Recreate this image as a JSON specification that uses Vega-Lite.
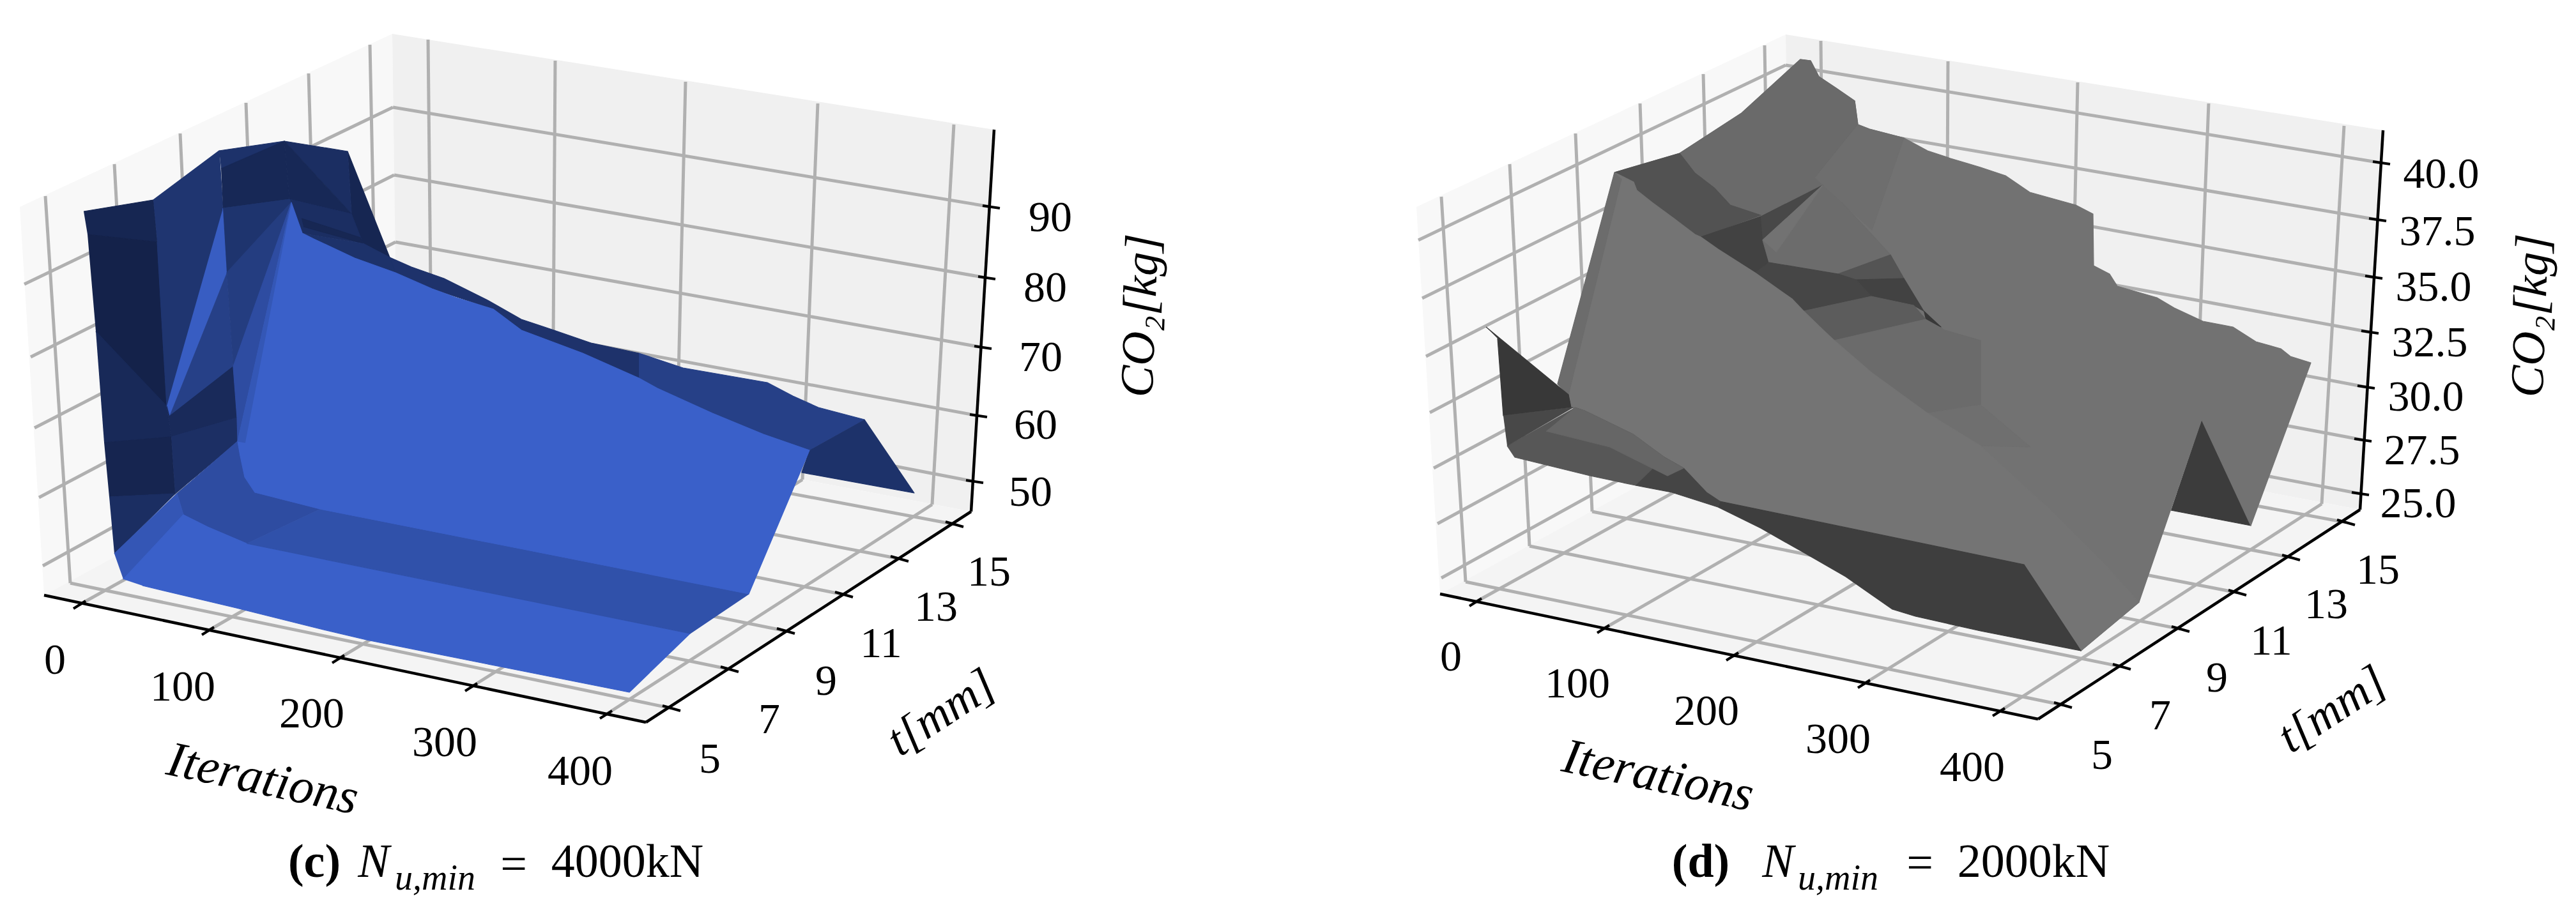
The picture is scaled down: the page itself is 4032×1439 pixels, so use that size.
{"$schema":"https://vega.github.io/schema/vega-lite/v6.json","autosize":{"type":"fit","contains":"padding"},"width":4032,"height":1439,"padding":0,"background":"white","view":{"stroke":null},
"datasets":{
"panes":[
{"poly":"cL","pane":"left","i":0,"u":31,"v":324},{"poly":"cL","pane":"left","i":1,"u":614,"v":53},{"poly":"cL","pane":"left","i":2,"u":622,"v":630},{"poly":"cL","pane":"left","i":3,"u":69,"v":932},
{"poly":"cB","pane":"back","i":0,"u":614,"v":53},{"poly":"cB","pane":"back","i":1,"u":1556,"v":203},{"poly":"cB","pane":"back","i":2,"u":1520,"v":801},{"poly":"cB","pane":"back","i":3,"u":622,"v":630},
{"poly":"cF","pane":"floor","i":0,"u":69,"v":932},{"poly":"cF","pane":"floor","i":1,"u":622,"v":630},{"poly":"cF","pane":"floor","i":2,"u":1520,"v":801},{"poly":"cF","pane":"floor","i":3,"u":1011,"v":1131},
{"poly":"dL","pane":"left","i":0,"u":2217,"v":324},{"poly":"dL","pane":"left","i":1,"u":2795,"v":54},{"poly":"dL","pane":"left","i":2,"u":2803,"v":630},{"poly":"dL","pane":"left","i":3,"u":2254,"v":930},
{"poly":"dB","pane":"back","i":0,"u":2795,"v":54},{"poly":"dB","pane":"back","i":1,"u":3730,"v":204},{"poly":"dB","pane":"back","i":2,"u":3694,"v":798},{"poly":"dB","pane":"back","i":3,"u":2803,"v":630},
{"poly":"dF","pane":"floor","i":0,"u":2254,"v":930},{"poly":"dF","pane":"floor","i":1,"u":2803,"v":630},{"poly":"dF","pane":"floor","i":2,"u":3694,"v":798},{"poly":"dF","pane":"floor","i":3,"u":3190,"v":1126}],
"grid":[
{"u":124,"v":947,"u2":676,"v2":640},{"u":676,"v":640,"u2":670,"v2":62},{"u":325,"v":988,"u2":865,"v2":676},{"u":865,"v":676,"u2":869,"v2":95},{"u":529,"v":1032,"u2":1059,"v2":713},{"u":1059,"v":713,"u2":1073,"v2":128},{"u":737,"v":1076,"u2":1256,"v2":751},{"u":1256,"v":751,"u2":1280,"v2":162},{"u":948,"v":1119,"u2":1459,"v2":790},{"u":1459,"v":790,"u2":1493,"v2":195},
{"u":1051,"v":1109,"u2":110,"v2":913},{"u":110,"v":913,"u2":71,"v2":307},{"u":1142,"v":1048,"u2":212,"v2":856},{"u":212,"v":856,"u2":179,"v2":257},{"u":1230,"v":988,"u2":310,"v2":802},{"u":310,"v":802,"u2":282,"v2":209},{"u":1321,"v":931,"u2":407,"v2":749},{"u":407,"v":749,"u2":385,"v2":161},{"u":1408,"v":875,"u2":500,"v2":699},{"u":500,"v":699,"u2":483,"v2":115},{"u":1494,"v":821,"u2":591,"v2":651},{"u":591,"v":651,"u2":579,"v2":70},
{"u":1551,"v":324,"u2":615,"v2":168},{"u":615,"v":168,"u2":38,"v2":445},{"u":1544,"v":435,"u2":617,"v2":274},{"u":617,"v":274,"u2":48,"v2":559},{"u":1538,"v":544,"u2":619,"v2":379},{"u":619,"v":379,"u2":54,"v2":670},{"u":1531,"v":651,"u2":621,"v2":483},{"u":621,"v":483,"u2":61,"v2":779},{"u":1525,"v":754,"u2":622,"v2":580},{"u":622,"v":580,"u2":67,"v2":886},
{"u":2309,"v":943,"u2":2856,"v2":640},{"u":2856,"v":640,"u2":2850,"v2":64},{"u":2509,"v":985,"u2":3046,"v2":676},{"u":3046,"v":676,"u2":3049,"v2":96},{"u":2711,"v":1028,"u2":3239,"v2":713},{"u":3239,"v":713,"u2":3252,"v2":129},{"u":2917,"v":1071,"u2":3434,"v2":750},{"u":3434,"v":750,"u2":3457,"v2":162},{"u":3128,"v":1115,"u2":3634,"v2":789},{"u":3634,"v":789,"u2":3669,"v2":197},
{"u":3229,"v":1104,"u2":2294,"v2":911},{"u":2294,"v":911,"u2":2256,"v2":308},{"u":3321,"v":1044,"u2":2394,"v2":855},{"u":2394,"v":855,"u2":2363,"v2":257},{"u":3413,"v":985,"u2":2492,"v2":801},{"u":2492,"v":801,"u2":2466,"v2":209},{"u":3502,"v":928,"u2":2588,"v2":749},{"u":2588,"v":749,"u2":2567,"v2":162},{"u":3586,"v":873,"u2":2681,"v2":699},{"u":2681,"v":699,"u2":2666,"v2":116},{"u":3672,"v":818,"u2":2772,"v2":651},{"u":2772,"v":651,"u2":2762,"v2":71},
{"u":3727,"v":255,"u2":2795,"v2":102},{"u":2795,"v":102,"u2":2220,"v2":376},{"u":3721,"v":344,"u2":2797,"v2":186},{"u":2797,"v":186,"u2":2226,"v2":467},{"u":3715,"v":434,"u2":2798,"v2":269},{"u":2798,"v":269,"u2":2232,"v2":558},{"u":3709,"v":520,"u2":2799,"v2":352},{"u":2799,"v":352,"u2":2238,"v2":646},{"u":3703,"v":606,"u2":2800,"v2":436},{"u":2800,"v":436,"u2":2244,"v2":733},{"u":3699,"v":689,"u2":2801,"v2":520},{"u":2801,"v":520,"u2":2250,"v2":820},{"u":3694,"v":773,"u2":2802,"v2":603},{"u":2802,"v":603,"u2":2256,"v2":905}],
"axes":[
{"u":69,"v":932,"u2":1011,"v2":1131},{"u":1011,"v":1131,"u2":1520,"v2":801},{"u":1520,"v":801,"u2":1556,"v2":203},
{"u":2254,"v":930,"u2":3190,"v2":1126},{"u":3190,"v":1126,"u2":3694,"v2":798},{"u":3694,"v":798,"u2":3730,"v2":204}],
"ticks":[
{"u":115,"v":953,"u2":134,"v2":941},{"u":316,"v":994,"u2":335,"v2":982},{"u":520,"v":1038,"u2":539,"v2":1026},{"u":728,"v":1082,"u2":747,"v2":1070},{"u":939,"v":1125,"u2":958,"v2":1113},
{"u":1037,"v":1105,"u2":1065,"v2":1113},{"u":1128,"v":1044,"u2":1156,"v2":1052},{"u":1216,"v":984,"u2":1244,"v2":992},{"u":1307,"v":927,"u2":1335,"v2":935},{"u":1394,"v":871,"u2":1422,"v2":879},{"u":1480,"v":817,"u2":1508,"v2":825},
{"u":1538,"v":322,"u2":1565,"v2":326},{"u":1531,"v":433,"u2":1558,"v2":437},{"u":1525,"v":542,"u2":1552,"v2":546},{"u":1518,"v":649,"u2":1545,"v2":653},{"u":1512,"v":752,"u2":1539,"v2":756},
{"u":2300,"v":949,"u2":2319,"v2":937},{"u":2500,"v":991,"u2":2519,"v2":979},{"u":2702,"v":1034,"u2":2721,"v2":1022},{"u":2908,"v":1077,"u2":2927,"v2":1065},{"u":3119,"v":1121,"u2":3138,"v2":1109},
{"u":3215,"v":1100,"u2":3243,"v2":1108},{"u":3307,"v":1040,"u2":3335,"v2":1048},{"u":3399,"v":981,"u2":3427,"v2":989},{"u":3488,"v":924,"u2":3516,"v2":932},{"u":3572,"v":869,"u2":3600,"v2":877},{"u":3658,"v":814,"u2":3686,"v2":822},
{"u":3714,"v":253,"u2":3741,"v2":257},{"u":3708,"v":342,"u2":3735,"v2":346},{"u":3702,"v":432,"u2":3729,"v2":436},{"u":3696,"v":518,"u2":3723,"v2":522},{"u":3690,"v":604,"u2":3717,"v2":608},{"u":3685,"v":687,"u2":3712,"v2":691},{"u":3681,"v":771,"u2":3708,"v2":775}],
"tickLabels":[
{"u":86,"v":1035,"t":"0"},{"u":286,"v":1077,"t":"100"},{"u":488,"v":1119,"t":"200"},{"u":696,"v":1164,"t":"300"},{"u":908,"v":1209,"t":"400"},
{"u":1111,"v":1190,"t":"5"},{"u":1204,"v":1128,"t":"7"},{"u":1293,"v":1068,"t":"9"},{"u":1379,"v":1009,"t":"11"},{"u":1465,"v":952,"t":"13"},{"u":1548,"v":897,"t":"15"},
{"u":1644,"v":342,"t":"90"},{"u":1636,"v":452,"t":"80"},{"u":1629,"v":561,"t":"70"},{"u":1621,"v":667,"t":"60"},{"u":1613,"v":772,"t":"50"},
{"u":2271,"v":1030,"t":"0"},{"u":2469,"v":1072,"t":"100"},{"u":2671,"v":1115,"t":"200"},{"u":2877,"v":1159,"t":"300"},{"u":3087,"v":1203,"t":"400"},
{"u":3290,"v":1184,"t":"5"},{"u":3381,"v":1122,"t":"7"},{"u":3470,"v":1063,"t":"9"},{"u":3555,"v":1005,"t":"11"},{"u":3641,"v":948,"t":"13"},{"u":3722,"v":894,"t":"15"},
{"u":3821,"v":274,"t":"40.0"},{"u":3815,"v":364,"t":"37.5"},{"u":3809,"v":451,"t":"35.0"},{"u":3803,"v":538,"t":"32.5"},{"u":3797,"v":623,"t":"30.0"},{"u":3791,"v":707,"t":"27.5"},{"u":3785,"v":790,"t":"25.0"}],
"capRegular":[{"u":804,"v":1355,"t":"="},{"u":982,"v":1351,"t":"4000kN"},{"u":3005,"v":1353,"t":"="},{"u":3183,"v":1351,"t":"2000kN"}],
"capBold":[{"u":492,"v":1351,"t":"(c)"},{"u":2662,"v":1351,"t":"(d)"}],
"capItalic":[{"u":585,"v":1351,"t":"N"},{"u":2783,"v":1351,"t":"N"}],
"capSub":[{"u":681,"v":1376,"t":"u,min"},{"u":2877,"v":1376,"t":"u,min"}],
"surfC":[
{"poly":1,"i":0,"u":610,"v":403,"shade":0.28},{"poly":1,"i":1,"u":644,"v":418,"shade":0.28},{"poly":1,"i":2,"u":695,"v":436,"shade":0.28},{"poly":1,"i":3,"u":765,"v":471,"shade":0.28},{"poly":1,"i":4,"u":816,"v":500,"shade":0.28},{"poly":1,"i":5,"u":867,"v":517,"shade":0.28},{"poly":1,"i":6,"u":925,"v":537,"shade":0.28},{"poly":1,"i":7,"u":1000,"v":553,"shade":0.28},{"poly":1,"i":8,"u":1000,"v":592,"shade":0.28},{"poly":1,"i":9,"u":912,"v":553,"shade":0.28},{"poly":1,"i":10,"u":816,"v":517,"shade":0.28},{"poly":1,"i":11,"u":772,"v":484,"shade":0.28},{"poly":1,"i":12,"u":676,"v":452,"shade":0.28},{"poly":1,"i":13,"u":555,"v":404,"shade":0.28},{"poly":1,"i":14,"u":473,"v":365,"shade":0.28},
{"poly":2,"i":0,"u":1000,"v":553,"shade":0.5},{"poly":2,"i":1,"u":1069,"v":576,"shade":0.5},{"poly":2,"i":2,"u":1201,"v":599,"shade":0.5},{"poly":2,"i":3,"u":1241,"v":620,"shade":0.5},{"poly":2,"i":4,"u":1281,"v":638,"shade":0.5},{"poly":2,"i":5,"u":1353,"v":657,"shade":0.5},{"poly":2,"i":6,"u":1267,"v":705,"shade":0.5},{"poly":2,"i":7,"u":1195,"v":680,"shade":0.5},{"poly":2,"i":8,"u":1115,"v":647,"shade":0.5},{"poly":2,"i":9,"u":1029,"v":608,"shade":0.5},{"poly":2,"i":10,"u":1000,"v":592,"shade":0.5},
{"poly":3,"i":0,"u":1353,"v":657,"shade":0.27},{"poly":3,"i":1,"u":1431,"v":772,"shade":0.27},{"poly":3,"i":2,"u":1255,"v":740,"shade":0.27},{"poly":3,"i":3,"u":1267,"v":705,"shade":0.27},
{"poly":4,"i":0,"u":544,"v":237,"shade":0.07},{"poly":4,"i":1,"u":610,"v":403,"shade":0.07},{"poly":4,"i":2,"u":568,"v":381,"shade":0.07},{"poly":4,"i":3,"u":550,"v":335,"shade":0.07},
{"poly":5,"i":0,"u":131,"v":331,"shade":0.07},{"poly":5,"i":1,"u":240,"v":313,"shade":0.07},{"poly":5,"i":2,"u":246,"v":379,"shade":0.07},{"poly":5,"i":3,"u":137,"v":367,"shade":0.07},
{"poly":6,"i":0,"u":137,"v":367,"shade":0},{"poly":6,"i":1,"u":246,"v":379,"shade":0},{"poly":6,"i":2,"u":261,"v":636,"shade":0},{"poly":6,"i":3,"u":150,"v":519,"shade":0},
{"poly":7,"i":0,"u":150,"v":519,"shade":0.12},{"poly":7,"i":1,"u":261,"v":636,"shade":0.12},{"poly":7,"i":2,"u":268,"v":684,"shade":0.12},{"poly":7,"i":3,"u":163,"v":693,"shade":0.12},
{"poly":8,"i":0,"u":163,"v":693,"shade":0.05},{"poly":8,"i":1,"u":268,"v":684,"shade":0.05},{"poly":8,"i":2,"u":274,"v":773,"shade":0.05},{"poly":8,"i":3,"u":171,"v":778,"shade":0.05},
{"poly":9,"i":0,"u":171,"v":778,"shade":0.2},{"poly":9,"i":1,"u":274,"v":773,"shade":0.2},{"poly":9,"i":2,"u":179,"v":867,"shade":0.2},
{"poly":10,"i":0,"u":240,"v":313,"shade":0.32},{"poly":10,"i":1,"u":343,"v":236,"shade":0.32},{"poly":10,"i":2,"u":349,"v":326,"shade":0.32},{"poly":10,"i":3,"u":355,"v":427,"shade":0.32},{"poly":10,"i":4,"u":261,"v":636,"shade":0.32},{"poly":10,"i":5,"u":246,"v":379,"shade":0.32},
{"poly":11,"i":0,"u":349,"v":326,"shade":0.95},{"poly":11,"i":1,"u":355,"v":427,"shade":0.95},{"poly":11,"i":2,"u":265,"v":652,"shade":0.95},{"poly":11,"i":3,"u":261,"v":636,"shade":0.95},
{"poly":12,"i":0,"u":355,"v":427,"shade":0.5},{"poly":12,"i":1,"u":365,"v":574,"shade":0.5},{"poly":12,"i":2,"u":265,"v":652,"shade":0.5},
{"poly":13,"i":0,"u":261,"v":636,"shade":0.14},{"poly":13,"i":1,"u":265,"v":652,"shade":0.14},{"poly":13,"i":2,"u":365,"v":574,"shade":0.14},{"poly":13,"i":3,"u":371,"v":654,"shade":0.14},{"poly":13,"i":4,"u":268,"v":684,"shade":0.14},
{"poly":14,"i":0,"u":268,"v":684,"shade":0.22},{"poly":14,"i":1,"u":371,"v":654,"shade":0.22},{"poly":14,"i":2,"u":372,"v":691,"shade":0.22},{"poly":14,"i":3,"u":274,"v":773,"shade":0.22},
{"poly":15,"i":0,"u":343,"v":236,"shade":0.27},{"poly":15,"i":1,"u":445,"v":221,"shade":0.27},{"poly":15,"i":2,"u":346,"v":264,"shade":0.27},
{"poly":16,"i":0,"u":346,"v":264,"shade":0.1},{"poly":16,"i":1,"u":445,"v":221,"shade":0.1},{"poly":16,"i":2,"u":453,"v":312,"shade":0.1},{"poly":16,"i":3,"u":349,"v":326,"shade":0.1},
{"poly":17,"i":0,"u":445,"v":221,"shade":0.2},{"poly":17,"i":1,"u":544,"v":237,"shade":0.2},{"poly":17,"i":2,"u":550,"v":335,"shade":0.2},
{"poly":18,"i":0,"u":445,"v":221,"shade":0.1},{"poly":18,"i":1,"u":550,"v":335,"shade":0.1},{"poly":18,"i":2,"u":453,"v":312,"shade":0.1},
{"poly":19,"i":0,"u":453,"v":312,"shade":0.2},{"poly":19,"i":1,"u":550,"v":335,"shade":0.2},{"poly":19,"i":2,"u":568,"v":381,"shade":0.2},{"poly":19,"i":3,"u":473,"v":365,"shade":0.2},
{"poly":20,"i":0,"u":472,"v":342,"shade":0.08},{"poly":20,"i":1,"u":564,"v":372,"shade":0.08},{"poly":20,"i":2,"u":568,"v":381,"shade":0.08},{"poly":20,"i":3,"u":475,"v":355,"shade":0.08},
{"poly":21,"i":0,"u":568,"v":381,"shade":0.27},{"poly":21,"i":1,"u":610,"v":403,"shade":0.27},{"poly":21,"i":2,"u":619,"v":427,"shade":0.27},{"poly":21,"i":3,"u":555,"v":404,"shade":0.27},{"poly":21,"i":4,"u":491,"v":374,"shade":0.27},{"poly":21,"i":5,"u":473,"v":365,"shade":0.27},
{"poly":22,"i":0,"u":349,"v":326,"shade":0.3},{"poly":22,"i":1,"u":453,"v":312,"shade":0.3},{"poly":22,"i":2,"u":456,"v":317,"shade":0.3},{"poly":22,"i":3,"u":355,"v":427,"shade":0.3},
{"poly":23,"i":0,"u":355,"v":427,"shade":0.45},{"poly":23,"i":1,"u":456,"v":317,"shade":0.45},{"poly":23,"i":2,"u":365,"v":574,"shade":0.45},
{"poly":24,"i":0,"u":456,"v":317,"shade":0.7},{"poly":24,"i":1,"u":365,"v":574,"shade":0.7},{"poly":24,"i":2,"u":371,"v":654,"shade":0.7},{"poly":24,"i":3,"u":372,"v":691,"shade":0.7},
{"poly":26,"i":0,"u":277,"v":773,"shade":0.7},{"poly":26,"i":1,"u":372,"v":691,"shade":0.7},{"poly":26,"i":2,"u":376,"v":714,"shade":0.7},{"poly":26,"i":3,"u":383,"v":747,"shade":0.7},{"poly":26,"i":4,"u":399,"v":771,"shade":0.7},{"poly":26,"i":5,"u":501,"v":797,"shade":0.7},{"poly":26,"i":6,"u":386,"v":851,"shade":0.7},{"poly":26,"i":7,"u":325,"v":825,"shade":0.7},{"poly":26,"i":8,"u":287,"v":806,"shade":0.7},
{"poly":27,"i":0,"u":179,"v":867,"shade":0.85},{"poly":27,"i":1,"u":277,"v":773,"shade":0.85},{"poly":27,"i":2,"u":287,"v":806,"shade":0.85},{"poly":27,"i":3,"u":193,"v":907,"shade":0.85},
{"poly":28,"i":0,"u":193,"v":907,"shade":1},{"poly":28,"i":1,"u":287,"v":806,"shade":1},{"poly":28,"i":2,"u":325,"v":825,"shade":1},{"poly":28,"i":3,"u":386,"v":851,"shade":1},{"poly":28,"i":4,"u":1080,"v":992,"shade":1},{"poly":28,"i":5,"u":985,"v":1084,"shade":1},{"poly":28,"i":6,"u":784,"v":1044,"shade":1},{"poly":28,"i":7,"u":574,"v":1002,"shade":1},{"poly":28,"i":8,"u":494,"v":983,"shade":1},{"poly":28,"i":9,"u":370,"v":952,"shade":1},{"poly":28,"i":10,"u":223,"v":917,"shade":1},
{"poly":29,"i":0,"u":501,"v":797,"shade":0.77},{"poly":29,"i":1,"u":1172,"v":930,"shade":0.77},{"poly":29,"i":2,"u":1080,"v":992,"shade":0.77},{"poly":29,"i":3,"u":386,"v":851,"shade":0.77},
{"poly":30,"i":0,"u":456,"v":317,"shade":1},{"poly":30,"i":1,"u":473,"v":365,"shade":1},{"poly":30,"i":2,"u":491,"v":374,"shade":1},{"poly":30,"i":3,"u":555,"v":404,"shade":1},{"poly":30,"i":4,"u":619,"v":427,"shade":1},{"poly":30,"i":5,"u":676,"v":452,"shade":1},{"poly":30,"i":6,"u":714,"v":466,"shade":1},{"poly":30,"i":7,"u":772,"v":484,"shade":1},{"poly":30,"i":8,"u":816,"v":517,"shade":1},{"poly":30,"i":9,"u":912,"v":553,"shade":1},{"poly":30,"i":10,"u":1000,"v":592,"shade":1},{"poly":30,"i":11,"u":1029,"v":608,"shade":1},{"poly":30,"i":12,"u":1115,"v":647,"shade":1},{"poly":30,"i":13,"u":1195,"v":680,"shade":1},{"poly":30,"i":14,"u":1267,"v":705,"shade":1},{"poly":30,"i":15,"u":1172,"v":930,"shade":1},{"poly":30,"i":16,"u":501,"v":797,"shade":1},{"poly":30,"i":17,"u":399,"v":771,"shade":1},{"poly":30,"i":18,"u":383,"v":747,"shade":1},{"poly":30,"i":19,"u":376,"v":714,"shade":1},{"poly":30,"i":20,"u":372,"v":691,"shade":1},
{"poly":31,"i":0,"u":456,"v":317,"shade":0.86},{"poly":31,"i":1,"u":372,"v":691,"shade":0.86},{"poly":31,"i":2,"u":384,"v":693,"shade":0.86}],
"surfD":[
{"poly":1,"i":0,"u":3446,"v":657,"shade":0.1},{"poly":1,"i":1,"u":3523,"v":823,"shade":0.1},{"poly":1,"i":2,"u":3398,"v":799,"shade":0.1},
{"poly":2,"i":0,"u":2527,"v":270,"shade":0.97},{"poly":2,"i":1,"u":2629,"v":240,"shade":0.97},{"poly":2,"i":2,"u":2726,"v":177,"shade":0.97},{"poly":2,"i":3,"u":2818,"v":93,"shade":0.97},{"poly":2,"i":4,"u":2834,"v":95,"shade":0.97},{"poly":2,"i":5,"u":2847,"v":120,"shade":0.97},{"poly":2,"i":6,"u":2874,"v":138,"shade":0.97},{"poly":2,"i":7,"u":2903,"v":158,"shade":0.97},{"poly":2,"i":8,"u":2908,"v":195,"shade":0.97},{"poly":2,"i":9,"u":2926,"v":202,"shade":0.97},{"poly":2,"i":10,"u":2980,"v":216,"shade":0.97},{"poly":2,"i":11,"u":3017,"v":236,"shade":0.97},{"poly":2,"i":12,"u":3053,"v":248,"shade":0.97},{"poly":2,"i":13,"u":3100,"v":262,"shade":0.97},{"poly":2,"i":14,"u":3139,"v":275,"shade":0.97},{"poly":2,"i":15,"u":3177,"v":301,"shade":0.97},{"poly":2,"i":16,"u":3249,"v":321,"shade":0.97},{"poly":2,"i":17,"u":3276,"v":335,"shade":0.97},{"poly":2,"i":18,"u":3277,"v":416,"shade":0.97},{"poly":2,"i":19,"u":3302,"v":429,"shade":0.97},{"poly":2,"i":20,"u":3314,"v":448,"shade":0.97},{"poly":2,"i":21,"u":3376,"v":466,"shade":0.97},{"poly":2,"i":22,"u":3403,"v":482,"shade":0.97},{"poly":2,"i":23,"u":3448,"v":503,"shade":0.97},{"poly":2,"i":24,"u":3495,"v":512,"shade":0.97},{"poly":2,"i":25,"u":3531,"v":535,"shade":0.97},{"poly":2,"i":26,"u":3570,"v":546,"shade":0.97},{"poly":2,"i":27,"u":3585,"v":558,"shade":0.97},{"poly":2,"i":28,"u":3617,"v":568,"shade":0.97},{"poly":2,"i":29,"u":3523,"v":823,"shade":0.97},{"poly":2,"i":30,"u":3446,"v":657,"shade":0.97},{"poly":2,"i":31,"u":3348,"v":943,"shade":0.97},{"poly":2,"i":32,"u":3257,"v":1019,"shade":0.97},{"poly":2,"i":33,"u":3168,"v":884,"shade":0.97},{"poly":2,"i":34,"u":2692,"v":785,"shade":0.97},{"poly":2,"i":35,"u":2480,"v":643,"shade":0.97},{"poly":2,"i":36,"u":2459,"v":638,"shade":0.97},{"poly":2,"i":37,"u":2455,"v":618,"shade":0.97},{"poly":2,"i":38,"u":2438,"v":601,"shade":0.97},
{"poly":3,"i":0,"u":2629,"v":240,"shade":0.85},{"poly":3,"i":1,"u":2726,"v":177,"shade":0.85},{"poly":3,"i":2,"u":2818,"v":93,"shade":0.85},{"poly":3,"i":3,"u":2834,"v":95,"shade":0.85},{"poly":3,"i":4,"u":2847,"v":120,"shade":0.85},{"poly":3,"i":5,"u":2874,"v":138,"shade":0.85},{"poly":3,"i":6,"u":2903,"v":158,"shade":0.85},{"poly":3,"i":7,"u":2908,"v":195,"shade":0.85},{"poly":3,"i":8,"u":2841,"v":278,"shade":0.85},{"poly":3,"i":9,"u":2853,"v":289,"shade":0.85},{"poly":3,"i":10,"u":2756,"v":337,"shade":0.85},{"poly":3,"i":11,"u":2708,"v":321,"shade":0.85},{"poly":3,"i":12,"u":2683,"v":294,"shade":0.85},{"poly":3,"i":13,"u":2653,"v":271,"shade":0.85},
{"poly":4,"i":0,"u":2908,"v":195,"shade":0.91},{"poly":4,"i":1,"u":2926,"v":202,"shade":0.91},{"poly":4,"i":2,"u":2980,"v":216,"shade":0.91},{"poly":4,"i":3,"u":2930,"v":360,"shade":0.91},{"poly":4,"i":4,"u":2883,"v":317,"shade":0.91},{"poly":4,"i":5,"u":2853,"v":289,"shade":0.91},{"poly":4,"i":6,"u":2841,"v":278,"shade":0.91},
{"poly":5,"i":0,"u":2527,"v":270,"shade":0.47},{"poly":5,"i":1,"u":2629,"v":240,"shade":0.47},{"poly":5,"i":2,"u":2653,"v":271,"shade":0.47},{"poly":5,"i":3,"u":2683,"v":294,"shade":0.47},{"poly":5,"i":4,"u":2708,"v":321,"shade":0.47},{"poly":5,"i":5,"u":2756,"v":337,"shade":0.47},{"poly":5,"i":6,"u":2662,"v":371,"shade":0.47},{"poly":5,"i":7,"u":2653,"v":367,"shade":0.47},{"poly":5,"i":8,"u":2620,"v":342,"shade":0.47},{"poly":5,"i":9,"u":2586,"v":317,"shade":0.47},{"poly":5,"i":10,"u":2562,"v":298,"shade":0.47},{"poly":5,"i":11,"u":2557,"v":285,"shade":0.47},
{"poly":6,"i":0,"u":2662,"v":371,"shade":0.2},{"poly":6,"i":1,"u":2756,"v":339,"shade":0.2},{"poly":6,"i":2,"u":2759,"v":376,"shade":0.2},{"poly":6,"i":3,"u":2769,"v":411,"shade":0.2},{"poly":6,"i":4,"u":2747,"v":427,"shade":0.2},{"poly":6,"i":5,"u":2689,"v":390,"shade":0.2},
{"poly":7,"i":0,"u":2756,"v":339,"shade":0.3},{"poly":7,"i":1,"u":2853,"v":290,"shade":0.3},{"poly":7,"i":2,"u":2759,"v":376,"shade":0.3},
{"poly":8,"i":0,"u":2853,"v":290,"shade":0.88},{"poly":8,"i":1,"u":2759,"v":376,"shade":0.88},{"poly":8,"i":2,"u":2769,"v":411,"shade":0.88},{"poly":8,"i":3,"u":2877,"v":429,"shade":0.88},{"poly":8,"i":4,"u":2959,"v":399,"shade":0.88},{"poly":8,"i":5,"u":2926,"v":363,"shade":0.88},{"poly":8,"i":6,"u":2883,"v":317,"shade":0.88},
{"poly":9,"i":0,"u":2759,"v":376,"shade":0.97},{"poly":9,"i":1,"u":2853,"v":290,"shade":0.97},{"poly":9,"i":2,"u":2780,"v":395,"shade":0.97},
{"poly":10,"i":0,"u":2877,"v":429,"shade":0.5},{"poly":10,"i":1,"u":2959,"v":399,"shade":0.5},{"poly":10,"i":2,"u":2980,"v":436,"shade":0.5},{"poly":10,"i":3,"u":2905,"v":438,"shade":0.5},
{"poly":11,"i":0,"u":2905,"v":438,"shade":0.2},{"poly":11,"i":1,"u":2980,"v":436,"shade":0.2},{"poly":11,"i":2,"u":3011,"v":487,"shade":0.2},{"poly":11,"i":3,"u":2995,"v":478,"shade":0.2},{"poly":11,"i":4,"u":2929,"v":464,"shade":0.2},
{"poly":12,"i":0,"u":3011,"v":487,"shade":0.05},{"poly":12,"i":1,"u":3038,"v":512,"shade":0.05},{"poly":12,"i":2,"u":3014,"v":500,"shade":0.05},
{"poly":13,"i":0,"u":2747,"v":427,"shade":0.27},{"poly":13,"i":1,"u":2769,"v":411,"shade":0.27},{"poly":13,"i":2,"u":2877,"v":429,"shade":0.27},{"poly":13,"i":3,"u":2905,"v":438,"shade":0.27},{"poly":13,"i":4,"u":2929,"v":464,"shade":0.27},{"poly":13,"i":5,"u":2823,"v":487,"shade":0.27},{"poly":13,"i":6,"u":2805,"v":468,"shade":0.27},
{"poly":14,"i":0,"u":2823,"v":487,"shade":0.62},{"poly":14,"i":1,"u":2929,"v":464,"shade":0.62},{"poly":14,"i":2,"u":2995,"v":478,"shade":0.62},{"poly":14,"i":3,"u":3014,"v":500,"shade":0.62},{"poly":14,"i":4,"u":2871,"v":533,"shade":0.62},{"poly":14,"i":5,"u":2856,"v":519,"shade":0.62},
{"poly":15,"i":0,"u":2871,"v":533,"shade":0.86},{"poly":15,"i":1,"u":3014,"v":500,"shade":0.86},{"poly":15,"i":2,"u":3044,"v":517,"shade":0.86},{"poly":15,"i":3,"u":3100,"v":533,"shade":0.86},{"poly":15,"i":4,"u":3100,"v":634,"shade":0.86},{"poly":15,"i":5,"u":3017,"v":647,"shade":0.86},{"poly":15,"i":6,"u":2929,"v":583,"shade":0.86},
{"poly":16,"i":0,"u":3017,"v":647,"shade":0.93},{"poly":16,"i":1,"u":3100,"v":634,"shade":0.93},{"poly":16,"i":2,"u":3178,"v":700,"shade":0.93},{"poly":16,"i":3,"u":3100,"v":698,"shade":0.93},
{"poly":17,"i":0,"u":2527,"v":270,"shade":1},{"poly":17,"i":1,"u":2557,"v":285,"shade":1},{"poly":17,"i":2,"u":2562,"v":298,"shade":1},{"poly":17,"i":3,"u":2586,"v":317,"shade":1},{"poly":17,"i":4,"u":2620,"v":342,"shade":1},{"poly":17,"i":5,"u":2653,"v":367,"shade":1},{"poly":17,"i":6,"u":2662,"v":371,"shade":1},{"poly":17,"i":7,"u":2689,"v":390,"shade":1},{"poly":17,"i":8,"u":2747,"v":427,"shade":1},{"poly":17,"i":9,"u":2805,"v":468,"shade":1},{"poly":17,"i":10,"u":2823,"v":487,"shade":1},{"poly":17,"i":11,"u":2856,"v":519,"shade":1},{"poly":17,"i":12,"u":2871,"v":533,"shade":1},{"poly":17,"i":13,"u":2929,"v":583,"shade":1},{"poly":17,"i":14,"u":3017,"v":647,"shade":1},{"poly":17,"i":15,"u":3100,"v":698,"shade":1},{"poly":17,"i":16,"u":3200,"v":790,"shade":1},{"poly":17,"i":17,"u":3300,"v":890,"shade":1},{"poly":17,"i":18,"u":3348,"v":943,"shade":1},{"poly":17,"i":19,"u":3257,"v":1019,"shade":1},{"poly":17,"i":20,"u":3168,"v":884,"shade":1},{"poly":17,"i":21,"u":2692,"v":785,"shade":1},{"poly":17,"i":22,"u":2671,"v":771,"shade":1},{"poly":17,"i":23,"u":2635,"v":733,"shade":1},{"poly":17,"i":24,"u":2605,"v":716,"shade":1},{"poly":17,"i":25,"u":2556,"v":680,"shade":1},{"poly":17,"i":26,"u":2480,"v":643,"shade":1},{"poly":17,"i":27,"u":2459,"v":638,"shade":1},{"poly":17,"i":28,"u":2455,"v":618,"shade":1},{"poly":17,"i":29,"u":2438,"v":601,"shade":1},
{"poly":18,"i":0,"u":2527,"v":270,"shade":0.88},{"poly":18,"i":1,"u":2438,"v":601,"shade":0.88},{"poly":18,"i":2,"u":2455,"v":618,"shade":0.88},{"poly":18,"i":3,"u":2538,"v":280,"shade":0.88},
{"poly":19,"i":0,"u":2692,"v":785,"shade":0.13},{"poly":19,"i":1,"u":3168,"v":884,"shade":0.13},{"poly":19,"i":2,"u":3257,"v":1019,"shade":0.13},{"poly":19,"i":3,"u":3100,"v":988,"shade":0.13},{"poly":19,"i":4,"u":2998,"v":965,"shade":0.13},{"poly":19,"i":5,"u":2962,"v":954,"shade":0.13},{"poly":19,"i":6,"u":2929,"v":931,"shade":0.13},{"poly":19,"i":7,"u":2889,"v":903,"shade":0.13},{"poly":19,"i":8,"u":2823,"v":865,"shade":0.13},{"poly":19,"i":9,"u":2756,"v":827,"shade":0.13},{"poly":19,"i":10,"u":2689,"v":794,"shade":0.13},
{"poly":20,"i":0,"u":2465,"v":638,"shade":0.55},{"poly":20,"i":1,"u":2480,"v":643,"shade":0.55},{"poly":20,"i":2,"u":2556,"v":680,"shade":0.55},{"poly":20,"i":3,"u":2605,"v":716,"shade":0.55},{"poly":20,"i":4,"u":2560,"v":760,"shade":0.55},{"poly":20,"i":5,"u":2489,"v":745,"shade":0.55},{"poly":20,"i":6,"u":2371,"v":716,"shade":0.55},{"poly":20,"i":7,"u":2359,"v":698,"shade":0.55},
{"poly":21,"i":0,"u":2605,"v":716,"shade":0.25},{"poly":21,"i":1,"u":2635,"v":733,"shade":0.25},{"poly":21,"i":2,"u":2671,"v":771,"shade":0.25},{"poly":21,"i":3,"u":2692,"v":785,"shade":0.25},{"poly":21,"i":4,"u":2689,"v":794,"shade":0.25},{"poly":21,"i":5,"u":2617,"v":771,"shade":0.25},{"poly":21,"i":6,"u":2560,"v":760,"shade":0.25},
{"poly":24,"i":0,"u":2465,"v":638,"shade":0.78},{"poly":24,"i":1,"u":2480,"v":643,"shade":0.78},{"poly":24,"i":2,"u":2556,"v":680,"shade":0.78},{"poly":24,"i":3,"u":2605,"v":716,"shade":0.78},{"poly":24,"i":4,"u":2635,"v":733,"shade":0.78},{"poly":24,"i":5,"u":2610,"v":745,"shade":0.78},{"poly":24,"i":6,"u":2520,"v":700,"shade":0.78},{"poly":24,"i":7,"u":2420,"v":675,"shade":0.78},
{"poly":22,"i":0,"u":2326,"v":512,"shade":0.03},{"poly":22,"i":1,"u":2455,"v":618,"shade":0.03},{"poly":22,"i":2,"u":2459,"v":638,"shade":0.03},{"poly":22,"i":3,"u":2353,"v":651,"shade":0.03},{"poly":22,"i":4,"u":2344,"v":530,"shade":0.03},
{"poly":23,"i":0,"u":2353,"v":651,"shade":0.3},{"poly":23,"i":1,"u":2462,"v":638,"shade":0.3},{"poly":23,"i":2,"u":2359,"v":698,"shade":0.3}]
},
"encoding":{
"x":{"field":"u","type":"quantitative","scale":{"domain":[0,4032],"nice":false,"zero":false},"axis":null},
"y":{"field":"v","type":"quantitative","scale":{"domain":[1439,0],"nice":false,"zero":false},"axis":null}},
"layer":[
{"data":{"name":"panes"},"mark":{"type":"line","strokeWidth":0},"encoding":{"detail":{"field":"poly"},"order":{"field":"i"},"fill":{"field":"pane","type":"nominal","scale":{"domain":["left","back","floor"],"range":["#f8f8f8","#f0f0f0","#f4f4f4"]},"legend":null}}},
{"data":{"name":"grid"},"mark":{"type":"rule","color":"#b0b0b0","strokeWidth":5},"encoding":{"x2":{"field":"u2"},"y2":{"field":"v2"}}},
{"data":{"name":"surfC"},"mark":{"type":"line","strokeWidth":1.2,"strokeJoin":"round"},"encoding":{"detail":{"field":"poly"},"order":{"field":"i"},"fill":{"field":"shade","type":"quantitative","scale":{"domain":[0,1],"range":["#14224a","#3a60c9"]},"legend":null},"stroke":{"field":"shade","type":"quantitative","scale":{"domain":[0,1],"range":["#14224a","#3a60c9"]},"legend":null}}},
{"data":{"name":"surfD"},"mark":{"type":"line","strokeWidth":1.2,"strokeJoin":"round"},"encoding":{"detail":{"field":"poly"},"order":{"field":"i"},"fill":{"field":"shade","type":"quantitative","scale":{"domain":[0,1],"range":["#363636","#747474"]},"legend":null},"stroke":{"field":"shade","type":"quantitative","scale":{"domain":[0,1],"range":["#363636","#747474"]},"legend":null}}},
{"data":{"name":"axes"},"mark":{"type":"rule","color":"#000000","strokeWidth":4.5},"encoding":{"x2":{"field":"u2"},"y2":{"field":"v2"}}},
{"data":{"name":"ticks"},"mark":{"type":"rule","color":"#000000","strokeWidth":4},"encoding":{"x2":{"field":"u2"},"y2":{"field":"v2"}}},
{"data":{"name":"tickLabels"},"mark":{"type":"text","font":"Liberation Serif","fontSize":68,"align":"center","baseline":"middle","color":"#000000"},"encoding":{"text":{"field":"t"}}},
{"data":{"values":[{"u":411,"v":1221,"t":"Iterations"},{"u":2595,"v":1216,"t":"Iterations"}]},"mark":{"type":"text","font":"Liberation Serif","fontStyle":"italic","fontSize":78,"angle":12,"align":"center","baseline":"middle","color":"#000000"},"encoding":{"text":{"field":"t"}}},
{"data":{"values":[{"u":1474,"v":1117,"t":"t[mm]"},{"u":3651,"v":1112,"t":"t[mm]"}]},"mark":{"type":"text","font":"Liberation Serif","fontStyle":"italic","fontSize":74,"angle":327,"align":"center","baseline":"middle","color":"#000000"},"encoding":{"text":{"field":"t"}}},
{"data":{"values":[{"u":1786,"v":494,"t":"CO₂[kg]"},{"u":3962,"v":494,"t":"CO₂[kg]"}]},"mark":{"type":"text","font":"Liberation Serif","fontStyle":"italic","fontSize":74,"angle":272,"align":"center","baseline":"middle","color":"#000000"},"encoding":{"text":{"field":"t"}}},
{"data":{"name":"capRegular"},"mark":{"type":"text","font":"Liberation Serif","fontSize":74,"align":"center","baseline":"middle","color":"#000000"},"encoding":{"text":{"field":"t"}}},
{"data":{"name":"capBold"},"mark":{"type":"text","font":"Liberation Serif","fontWeight":"bold","fontSize":74,"align":"center","baseline":"middle","color":"#000000"},"encoding":{"text":{"field":"t"}}},
{"data":{"name":"capItalic"},"mark":{"type":"text","font":"Liberation Serif","fontStyle":"italic","fontSize":74,"align":"center","baseline":"middle","color":"#000000"},"encoding":{"text":{"field":"t"}}},
{"data":{"name":"capSub"},"mark":{"type":"text","font":"Liberation Serif","fontStyle":"italic","fontSize":56,"align":"center","baseline":"middle","color":"#000000"},"encoding":{"text":{"field":"t"}}}
],
"resolve":{"scale":{"fill":"independent","stroke":"independent"}}
}
